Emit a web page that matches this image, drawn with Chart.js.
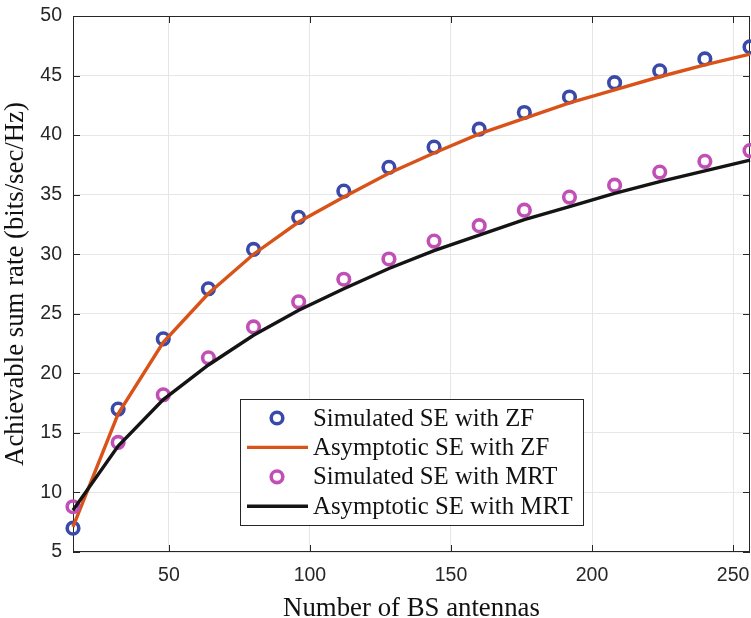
<!DOCTYPE html>
<html>
<head>
<meta charset="utf-8">
<script src="https://cdn.jsdelivr.net/npm/chart.js@4.4.1/dist/chart.umd.min.js"></script>
<style>
  html, body { margin: 0; padding: 0; background: #fff; }
  #wrap { width: 751px; height: 618px; }
</style>
</head>
<body>
<div id="wrap"><canvas id="seChart" width="751" height="618"></canvas></div>
<script>
// number of BS antennas (x values)
const antennas = [16, 32, 48, 64, 80, 96, 112, 128, 144, 160, 176, 192, 208, 224, 240, 256];
// sum rate values (bits/sec/Hz)
const zfSimulated = [7.0, 17.0, 22.9, 27.1, 30.4, 33.1, 35.3, 37.3, 39.0, 40.5, 41.9, 43.2, 44.4, 45.4, 46.4, 47.4];
const zfAsymptotic = [7.1, 16.6, 22.6, 26.7, 30.0, 32.7, 34.8, 36.8, 38.5, 40.1, 41.4, 42.7, 43.8, 44.9, 45.9, 46.8];
const mrtSimulated = [8.8, 14.2, 18.2, 21.3, 23.9, 26.0, 27.9, 29.6, 31.1, 32.4, 33.7, 34.8, 35.8, 36.9, 37.8, 38.7];
const mrtAsymptotic = [8.5, 13.9, 17.8, 20.7, 23.2, 25.3, 27.1, 28.8, 30.3, 31.6, 32.9, 34.0, 35.1, 36.1, 37.0, 37.9];
const seriesLabels = ['Simulated SE with ZF', 'Asymptotic SE with ZF', 'Simulated SE with MRT', 'Asymptotic SE with MRT'];
const xTickValues = [50, 100, 150, 200, 250];

const axisColor = '#262626';
const toPoints = values => values.map((v, i) => ({ x: antennas[i], y: v }));

// draws the matlab style box with inward ticks
const axesBox = {
  id: 'axesBox',
  beforeDatasetsDraw(chart) {
    const { ctx, chartArea: a, scales } = chart;
    const len = 7;
    ctx.save();
    ctx.strokeStyle = axisColor;
    ctx.lineWidth = 1;
    ctx.strokeRect(a.left + 0.5, a.top + 0.5, a.right - a.left - 1, a.bottom - a.top - 1);
    ctx.beginPath();
    scales.x.ticks.forEach(t => {
      const px = Math.round(scales.x.getPixelForValue(t.value)) + 0.5;
      ctx.moveTo(px, a.bottom); ctx.lineTo(px, a.bottom - len);
      ctx.moveTo(px, a.top); ctx.lineTo(px, a.top + len);
    });
    scales.y.ticks.forEach(t => {
      const py = Math.round(scales.y.getPixelForValue(t.value)) + 0.5;
      ctx.moveTo(a.left, py); ctx.lineTo(a.left + len, py);
      ctx.moveTo(a.right, py); ctx.lineTo(a.right - len, py);
    });
    ctx.stroke();
    ctx.restore();
  }
};

// legend box inside the plot, like the original
const boxLegend = {
  id: 'boxLegend',
  afterDraw(chart) {
    const { ctx, chartArea: a } = chart;
    const left = a.left + 167, top = a.top + 383;
    const w = 343, h = 126, rowH = 29.4;
    ctx.save();
    ctx.fillStyle = '#fff';
    ctx.fillRect(left, top, w, h);
    ctx.strokeStyle = axisColor;
    ctx.lineWidth = 1;
    ctx.strokeRect(left + 0.5, top + 0.5, w, h);
    chart.data.datasets.forEach((ds, i) => {
      const cy = top + 19 + i * rowH;
      if (ds.showLine) {
        ctx.strokeStyle = ds.borderColor;
        ctx.lineWidth = ds.borderWidth;
        ctx.beginPath();
        ctx.moveTo(left + 7, cy); ctx.lineTo(left + 68, cy);
        ctx.stroke();
      } else {
        ctx.strokeStyle = ds.pointBorderColor;
        ctx.lineWidth = ds.pointBorderWidth;
        ctx.beginPath();
        ctx.arc(left + 37, cy, ds.pointRadius, 0, Math.PI * 2);
        ctx.stroke();
      }
      ctx.fillStyle = '#111';
      ctx.font = '24.8px "Liberation Serif", "Times New Roman", serif';
      ctx.textBaseline = 'middle';
      ctx.fillText(ds.label, left + 73, cy + 1);
    });
    ctx.restore();
  }
};

function markerSet(label, values, color, order) {
  return {
    label: label,
    data: toPoints(values),
    showLine: false,
    pointStyle: 'circle',
    pointRadius: 5.8,
    pointBorderWidth: 3.6,
    pointBackgroundColor: 'rgba(0,0,0,0)',
    pointBorderColor: color,
    pointHoverRadius: 5.8,
    clip: false,
    order: order
  };
}

function lineSet(label, values, color, order) {
  return {
    label: label,
    data: toPoints(values),
    showLine: true,
    borderColor: color,
    borderWidth: 3.4,
    pointRadius: 0,
    tension: 0,
    fill: false,
    clip: false,
    order: order
  };
}

const ctx = document.getElementById('seChart').getContext('2d');
new Chart(ctx, {
  type: 'scatter',
  data: {
    datasets: [
      markerSet(seriesLabels[0], zfSimulated, '#3a4aa8', 4),
      lineSet(seriesLabels[1], zfAsymptotic, '#d95319', 3),
      markerSet(seriesLabels[2], mrtSimulated, '#c04fb6', 2),
      lineSet(seriesLabels[3], mrtAsymptotic, '#141414', 1)
    ]
  },
  options: {
    responsive: false,
    animation: false,
    devicePixelRatio: 1,
    // autoPadding off, otherwise the point size eats into the right edge
    layout: { autoPadding: false, padding: { top: 16, right: 1, left: 0, bottom: 0 } },
    plugins: {
      legend: { display: false },
      tooltip: { enabled: false }
    },
    scales: {
      x: {
        type: 'linear',
        min: 16,
        max: 256,
        afterBuildTicks: scale => { scale.ticks = xTickValues.map(v => ({ value: v })); },
        afterFit: scale => {
          scale.height = 66;
          scale.paddingLeft = 0;
          scale.paddingRight = 0;
        },
        grid: { color: '#e6e6e6', drawTicks: false },
        border: { display: false },
        ticks: {
          padding: 12,
          color: axisColor,
          font: { family: '"Liberation Sans", Arial, sans-serif', size: 19.5 }
        },
        title: {
          display: true,
          text: 'Number of BS antennas',
          color: '#111',
          padding: 0,
          font: { family: '"Liberation Serif", "Times New Roman", serif', size: 26.8, lineHeight: 0.7 }
        }
      },
      y: {
        min: 5,
        max: 50,
        afterFit: scale => {
          scale.width = 73;
          scale.paddingTop = 0;
          scale.paddingBottom = 0;
        },
        grid: { color: '#e6e6e6', drawTicks: false },
        border: { display: false },
        ticks: {
          stepSize: 5,
          padding: 11,
          color: axisColor,
          font: { family: '"Liberation Sans", Arial, sans-serif', size: 19.5 }
        },
        title: {
          display: true,
          text: 'Achievable sum rate (bits/sec/Hz)',
          color: '#111',
          padding: { top: 0, bottom: 0 },
          font: { family: '"Liberation Serif", "Times New Roman", serif', size: 26.8, lineHeight: 1.2 }
        }
      }
    }
  },
  plugins: [axesBox, boxLegend]
});
</script>
</body>
</html>
